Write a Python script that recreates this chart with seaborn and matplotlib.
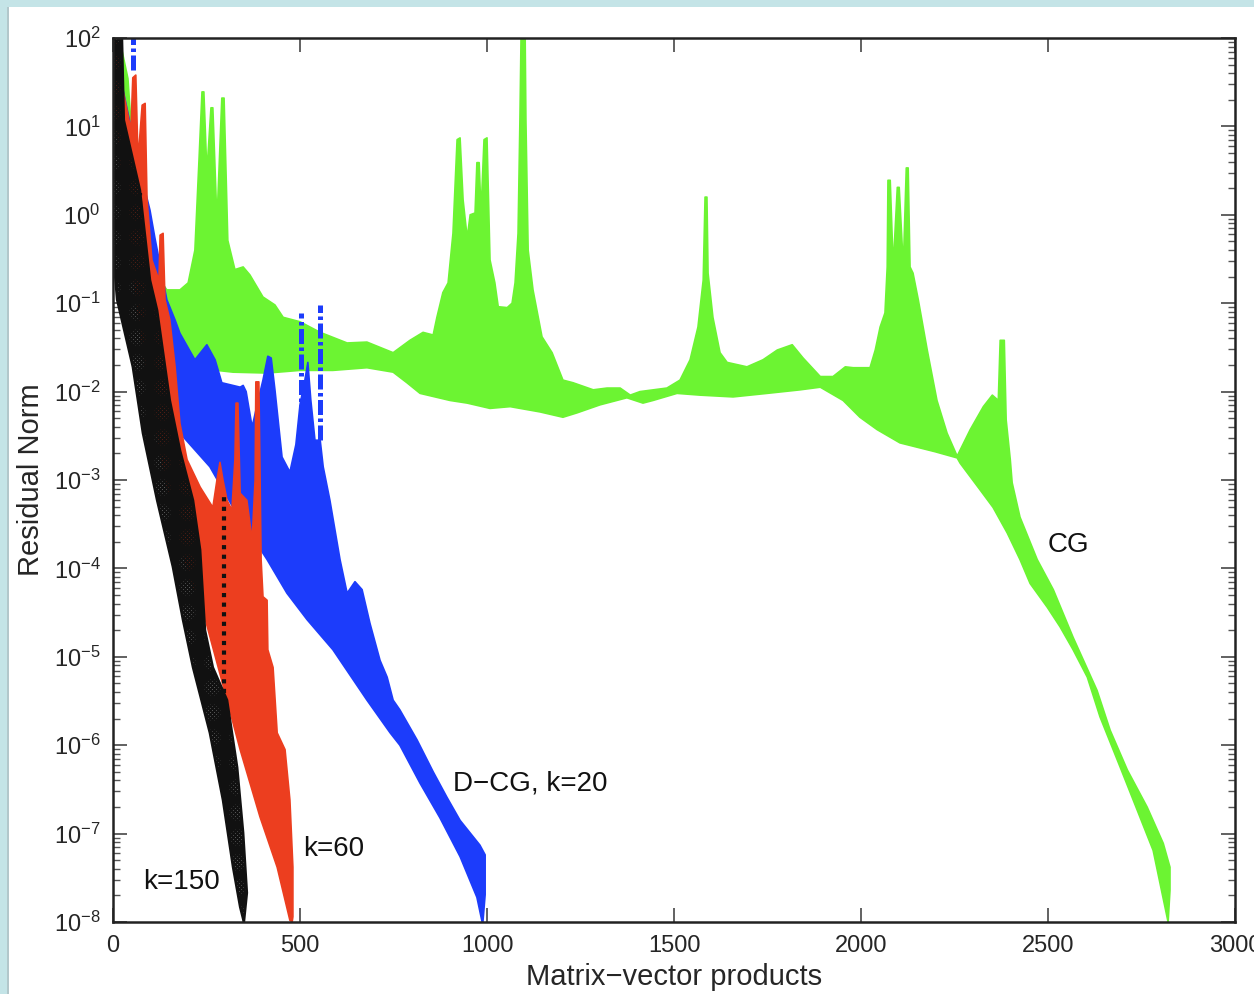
import numpy as np
import matplotlib
matplotlib.use("Agg")
import matplotlib.pyplot as plt
from matplotlib.patches import Rectangle
from matplotlib.ticker import LogLocator, FixedLocator, NullFormatter
import seaborn as sns

# ---------------------------------------------------------------------------
# Residual-norm histories.  The iterations oscillate so densely that each
# curve reads as a band; every band is stored as its upper and lower
# envelope (x = matrix-vector products, y = log10 of the residual norm).
# ---------------------------------------------------------------------------
cg_upper_x = [3, 24, 40, 53, 72, 99, 126, 144, 179, 201, 219, 230, 238, 243, 251, 262, 267,
              278, 291, 297, 307, 326, 348, 366, 401, 433, 455, 500, 554, 626, 679, 749, 794,
              829, 856, 866, 882, 896, 909, 920, 928, 936, 947, 955, 968, 973, 979, 984, 992,
              1000, 1008, 1021, 1030, 1054, 1067, 1075, 1083, 1088, 1091, 1102, 1104, 1110,
              1123, 1147, 1174, 1203, 1230, 1284, 1321, 1356, 1383, 1409, 1481, 1516, 1543,
              1564, 1578, 1583, 1588, 1591, 1604, 1623, 1642, 1695, 1738, 1776, 1816, 1845,
              1891, 1925, 1958, 1979, 2024, 2038, 2051, 2064, 2070, 2072, 2078, 2086, 2097,
              2102, 2113, 2121, 2126, 2131, 2139, 2153, 2177, 2203, 2230, 2257, 2292, 2327,
              2351, 2367, 2372, 2383, 2388, 2399, 2404, 2425, 2471, 2514, 2567, 2631, 2666,
              2712, 2765, 2808, 2826, 2826, 2821]
cg_upper_log10 = [2.0, 1.86, 1.54, 0.73, 0.17, -0.40, -0.74, -0.85, -0.85, -0.77, -0.40, 0.62,
                  1.39, 1.39, 0.48, 1.21, 1.21, -0.08, 1.32, 1.32, -0.29, -0.62, -0.59, -0.68,
                  -0.93, -1.02, -1.16, -1.21, -1.33, -1.45, -1.44, -1.56, -1.42, -1.33, -1.36,
                  -1.16, -0.88, -0.77, -0.21, 0.85, 0.87, 0.17, -0.26, 0.00, 0.02, 0.59, 0.59,
                  0.02, 0.85, 0.87, -0.51, -0.77, -1.04, -1.05, -1.00, -0.77, -0.21, 1.07, 2.0,
                  2.0, 1.07, -0.40, -0.85, -1.38, -1.56, -1.87, -1.90, -1.98, -1.96, -1.96,
                  -2.04, -2.00, -1.96, -1.87, -1.64, -1.27, -0.74, 0.20, 0.20, -0.66, -1.16,
                  -1.56, -1.67, -1.72, -1.64, -1.53, -1.47, -1.62, -1.83, -1.83, -1.72, -1.73,
                  -1.73, -1.53, -1.27, -1.11, -0.59, 0.39, 0.39, -0.59, 0.31, 0.31, -0.59, 0.53,
                  0.53, -0.59, -0.66, -0.96, -1.53, -2.10, -2.47, -2.73, -2.43, -2.17, -2.04,
                  -2.10, -1.42, -1.42, -2.32, -2.77, -3.03, -3.42, -3.90, -4.24, -4.78, -5.38,
                  -5.83, -6.28, -6.70, -7.11, -7.38, -7.64, -8.0]
cg_lower_x = [3, 32, 59, 99, 144, 278, 321, 412, 500, 588, 679, 749, 786, 821, 901, 947, 1008,
              1062, 1142, 1203, 1241, 1302, 1374, 1417, 1444, 1508, 1570, 1658, 1749, 1837,
              1891, 1952, 1997, 2043, 2104, 2198, 2257, 2265, 2318, 2353, 2391, 2425, 2452,
              2498, 2532, 2567, 2605, 2639, 2693, 2738, 2781, 2821]
cg_lower_log10 = [1.30, 0.17, -0.51, -1.30, -1.70, -1.76, -1.78, -1.79, -1.76, -1.76, -1.73,
                  -1.78, -1.90, -2.02, -2.10, -2.13, -2.19, -2.17, -2.23, -2.29, -2.24, -2.15,
                  -2.07, -2.13, -2.10, -2.02, -2.04, -2.06, -2.02, -1.98, -1.95, -2.10, -2.29,
                  -2.43, -2.58, -2.68, -2.75, -2.81, -3.11, -3.31, -3.60, -3.90, -4.17, -4.44,
                  -4.66, -4.92, -5.23, -5.68, -6.25, -6.73, -7.19, -8.0]

dcg20_upper_x = [3, 13, 24, 72, 99, 112, 144, 166, 179, 219, 251, 273, 291, 340, 348, 356,
                 372, 388, 401, 414, 423, 433, 452, 473, 489, 500, 513, 521, 529, 540, 554,
                 562, 580, 607, 626, 647, 666, 687, 714, 733, 749, 767, 813, 856, 893, 928,
                 981, 995, 995, 989]
dcg20_upper_log10 = [2.0, 1.75, 1.47, 0.51, 0.05, -0.26, -0.96, -1.19, -1.34, -1.64, -1.47,
                     -1.64, -1.90, -1.95, -1.93, -2.00, -2.40, -2.10, -1.87, -1.60, -1.62,
                     -1.98, -2.74, -2.91, -2.60, -2.15, -1.87, -1.67, -2.10, -2.55, -2.55,
                     -2.85, -3.23, -3.90, -4.28, -4.15, -4.24, -4.62, -5.04, -5.23, -5.49,
                     -5.60, -5.94, -6.30, -6.59, -6.85, -7.13, -7.24, -7.69, -8.0]
dcg20_lower_x = [3, 45, 99, 144, 179, 259, 321, 366, 412, 465, 519, 588, 679, 741, 767, 821,
                 874, 928, 973, 987]
dcg20_lower_log10 = [1.75, 0.17, -1.30, -2.10, -2.47, -2.85, -3.31, -3.60, -3.90, -4.28,
                     -4.58, -4.92, -5.49, -5.86, -6.00, -6.43, -6.82, -7.26, -7.72, -8.0]
# isolated dash-dotted excursions of the k=20 run: x, top, bottom (log10)
dcg20_spike_x = [53, 503, 554]
dcg20_spike_top = [2.0, -1.11, -1.02]
dcg20_spike_bottom = [1.64, -2.32, -2.55]

dcg60_upper_x = [0, 13, 21, 37, 48, 53, 61, 67, 78, 86, 91, 104, 123, 126, 134, 139, 152,
                 166, 179, 198, 233, 267, 278, 286, 294, 305, 318, 326, 329, 334, 340, 358,
                 372, 380, 382, 390, 396, 401, 412, 414, 428, 439, 460, 473, 481, 481, 479]
dcg60_upper_log10 = [2.0, 1.92, 1.52, 1.19, 0.96, 1.55, 1.58, 0.62, 1.24, 1.26, 0.17, -0.51,
                     -0.74, -0.23, -0.21, -0.96, -1.19, -1.72, -2.36, -2.77, -3.08, -3.31,
                     -3.00, -2.80, -3.00, -3.23, -3.34, -2.77, -2.13, -2.13, -3.15, -3.23,
                     -3.68, -3.00, -1.89, -1.89, -3.90, -4.32, -4.36, -4.92, -5.12, -5.86,
                     -6.05, -6.62, -7.38, -7.94, -8.0]
dcg60_lower_x = [0, 3, 45, 99, 152, 206, 233, 305, 340, 393, 439, 473, 479]
dcg60_lower_log10 = [2.0, 1.30, -0.40, -2.10, -3.23, -4.13, -4.36, -5.49, -6.05, -6.81,
                     -7.38, -7.98, -8.0]

dcg150_upper_x = [24, 29, 72, 99, 118, 152, 179, 214, 233, 246, 267, 305, 332, 348, 358, 350]
dcg150_upper_log10 = [2.0, 1.07, 0.28, -0.74, -1.08, -2.10, -2.66, -3.23, -3.79, -4.70,
                      -5.12, -5.49, -6.25, -6.99, -7.67, -8.0]
dcg150_lower_x = [0, 0, 11, 53, 80, 118, 160, 187, 214, 259, 294, 321, 340, 350]
dcg150_lower_log10 = [2.0, -0.40, -0.96, -1.72, -2.47, -3.23, -3.98, -4.58, -5.12, -5.86,
                      -6.62, -7.38, -7.83, -8.0]
# dotted excursions of the k=150 run: x, top, bottom (log10)
dcg150_spike_x = [72, 297]
dcg150_spike_top = [0.25, -3.19]
dcg150_spike_bottom = [-1.19, -5.41]

# curve labels: text, x, log10(y)
label_text = ["CG", "D\u2212CG, k=20", "k=60", "k=150"]
label_x = [2500, 909, 508, 80]
label_log10 = [-3.74, -6.43, -7.17, -7.55]

x_ticks = [0, 500, 1000, 1500, 2000, 2500, 3000]

GREEN = "#6cf432"
BLUE = "#1c3cfb"
RED = "#ec3e1f"
BLACK = "#111111"

sns.set_style("ticks")
plt.rcParams["font.family"] = ["Liberation Sans", "DejaVu Sans"]
plt.rcParams["mathtext.fontset"] = "custom"
plt.rcParams["mathtext.rm"] = "Liberation Sans"
plt.rcParams["mathtext.it"] = "Liberation Sans:italic"
plt.rcParams["mathtext.bf"] = "Liberation Sans:bold"
plt.rcParams["hatch.linewidth"] = 1.7
plt.rcParams["hatch.color"] = "black"

fig = plt.figure(figsize=(12.54, 9.94), dpi=100)
ax = fig.add_axes([0.0901, 0.0724, 0.8948, 0.8894])
ax.set_yscale("log")
ax.set_xlim(0, 3000)
ax.set_ylim(1e-8, 1e2)


def band(xu, eu, xl, el, color, z, outline=True):
    xu, eu, xl, el = map(np.asarray, (xu, eu, xl, el))
    xs = np.r_[xu, xl[::-1]]
    ys = 10.0 ** np.r_[eu, el[::-1]]
    ax.fill(xs, ys, color=color, lw=0, zorder=z)
    if outline:
        for x, e in ((xu, eu), (xl, el)):
            sns.lineplot(x=x, y=10.0 ** e, sort=False, estimator=None, color=color,
                         lw=1.2, ax=ax, zorder=z)


band(cg_upper_x, cg_upper_log10, cg_lower_x, cg_lower_log10, GREEN, 1)
band(dcg20_upper_x, dcg20_upper_log10, dcg20_lower_x, dcg20_lower_log10, BLUE, 2)
for x, t, b in zip(dcg20_spike_x, dcg20_spike_top, dcg20_spike_bottom):
    ax.plot([x, x], [10.0 ** b, 10.0 ** t], color=BLUE, lw=3.6,
            ls=(0, (3, 0.7, 0.7, 0.7)), zorder=2.5, solid_capstyle="butt")
band(dcg60_upper_x, dcg60_upper_log10, dcg60_lower_x, dcg60_lower_log10, RED, 3)

# k=150: a dense cloud of dark marks, drawn as a cross-hatched band
xu, eu = np.asarray(dcg150_upper_x), np.asarray(dcg150_upper_log10)
xl, el = np.asarray(dcg150_lower_x), np.asarray(dcg150_lower_log10)
bx = np.r_[xu, xl[::-1]]
by = 10.0 ** np.r_[eu, el[::-1]]
ax.fill(bx, by, facecolor="none", edgecolor=BLACK, hatch="x" * 8, lw=0, zorder=4)
for x, e in ((xu, eu), (xl, el)):
    sns.lineplot(x=x, y=10.0 ** e, sort=False, estimator=None, color=BLACK, lw=1.8,
                 ax=ax, zorder=4)
for x, t, b in zip(dcg150_spike_x, dcg150_spike_top, dcg150_spike_bottom):
    ax.plot([x, x], [10.0 ** b, 10.0 ** t], color=BLACK, lw=3.0, ls=(0, (1, 1.3)), zorder=4.5)

for txt, x, e in zip(label_text, label_x, label_log10):
    ax.text(x, 10.0 ** e, txt, fontsize=20, color="#111111", ha="left", va="center", zorder=6)

# axes cosmetics
ax.xaxis.set_major_locator(FixedLocator(x_ticks))
ax.yaxis.set_major_locator(LogLocator(base=10, numticks=20))
ax.yaxis.set_minor_locator(LogLocator(base=10, subs=np.arange(2, 10), numticks=20))
ax.yaxis.set_minor_formatter(NullFormatter())
ax.tick_params(axis="both", which="major", direction="in", length=10, width=1.3,
               color="#555555", labelsize=17, top=True, right=True, pad=9)
ax.tick_params(axis="y", which="minor", direction="in", length=5, width=1.0,
               color="#555555", right=True)
ax.tick_params(axis="x", which="minor", bottom=False, top=False)
for s in ax.spines.values():
    s.set_linewidth(1.8)
    s.set_color("#222222")
    s.set_zorder(7)
ax.set_xlabel("Matrix\u2212vector products", fontsize=21, labelpad=5)
ax.set_ylabel("Residual Norm", fontsize=21, labelpad=6)
ax.grid(False)

# light frame along the top and left edges
fig.patches.append(Rectangle((0, 1 - 7 / 994), 1, 7 / 994, transform=fig.transFigure,
                             facecolor="#c4e4e7", edgecolor="none", zorder=0))
fig.patches.append(Rectangle((0, 0), 7 / 1254, 1, transform=fig.transFigure,
                             facecolor="#c4e4e7", edgecolor="none", zorder=0))
fig.patches.append(Rectangle((7 / 1254, 0), 2 / 1254, 1 - 7 / 994, transform=fig.transFigure,
                             facecolor="#b2c7cb", edgecolor="none", zorder=0))

fig.savefig("out.png", dpi=100)
